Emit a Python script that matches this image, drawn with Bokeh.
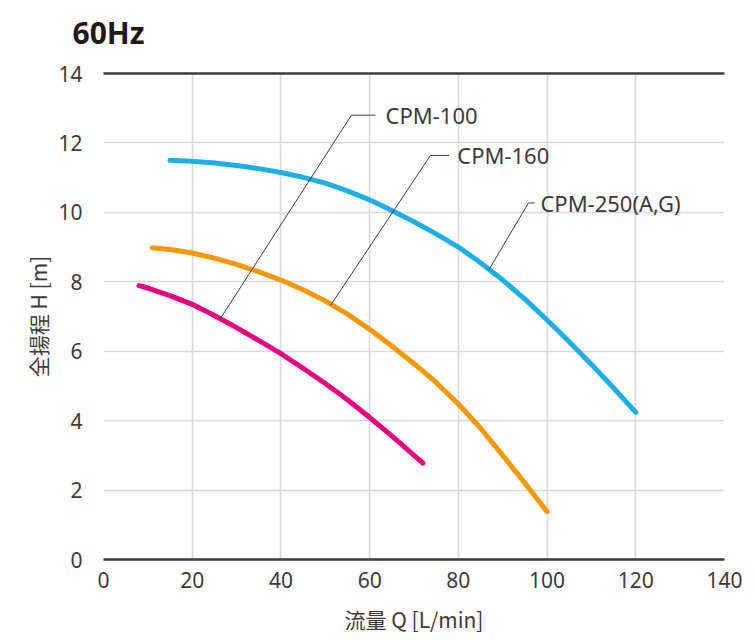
from bokeh.plotting import figure
from bokeh.models import Range1d, FixedTicker, LinearAxis
from bokeh.core.properties import value
from bokeh.embed import file_html
from bokeh.resources import INLINE

# ---- data ----
x_ticks = [0, 20, 40, 60, 80, 100, 120, 140]
y_ticks = [0, 2, 4, 6, 8, 10, 12, 14]

q_250 = [15, 20, 25, 30, 35, 40, 45, 50, 55, 60, 65, 70, 75, 80, 85, 90, 95, 100, 105, 110, 115, 120]
h_250 = [11.5, 11.47, 11.42, 11.35, 11.26, 11.15, 11.01, 10.84, 10.62, 10.36, 10.05, 9.73, 9.38, 9.0,
         8.55, 8.05, 7.5, 6.9, 6.27, 5.62, 4.94, 4.24]

q_160 = [11, 15, 20, 25, 30, 35, 40, 45, 50, 55, 60, 65, 70, 75, 80, 85, 90, 95, 100]
h_160 = [8.98, 8.93, 8.83, 8.68, 8.5, 8.29, 8.05, 7.77, 7.45, 7.07, 6.63, 6.15, 5.64, 5.1, 4.48,
         3.78, 3.0, 2.2, 1.38]

q_100 = [8, 10, 15, 20, 25, 30, 35, 40, 45, 50, 55, 60, 65, 70, 72]
h_100 = [7.89, 7.82, 7.6, 7.35, 7.03, 6.68, 6.31, 5.93, 5.51, 5.07, 4.6, 4.09, 3.56, 3.0, 2.78]

labels = ["CPM-100", "CPM-160", "CPM-250(A,G)"]
# leader lines: point on curve -> elbow -> end of horizontal stroke
leader_x = [[26.2, 55.9, 61.3], [51.2, 73.7, 77.9], [86.9, 95.8, 97.2]]
leader_y = [[6.91, 12.8, 12.8], [7.32, 11.64, 11.64], [8.35, 10.27, 10.27]]
label_x = [63.6, 79.75, 98.5]
label_y = [12.8, 11.64, 10.27]

# ---- styles ----
C_BLUE = "#1eaee5"
C_ORANGE = "#f39800"
C_MAGENTA = "#e4007f"
C_TEXT = "#3e3a39"
C_DARK = "#3e3a39"
C_GRID = "#d9d9d9"

p = figure(width=752, height=640,
           x_range=Range1d(0, 140), y_range=Range1d(0, 14),
           output_backend="svg", toolbar_location=None,
           min_border_left=103, min_border_right=28,
           min_border_top=73, min_border_bottom=81)

p.outline_line_color = None
p.background_fill_color = "white"
p.border_fill_color = "white"

xa = p.below[0]
ya = p.left[0]

# top rule: an axis above whose invisible tick reserves space under the title
top_axis = LinearAxis(ticker=FixedTicker(ticks=[x_ticks[0]]), axis_line_color=C_DARK,
                      axis_line_width=2.3,
                      major_tick_out=19, major_tick_in=0, major_tick_line_color=None,
                      minor_tick_out=0, minor_tick_in=0, minor_tick_line_color=None,
                      major_label_standoff=0, major_label_text_font_size="1px",
                      major_label_text_color=None)
p.add_layout(top_axis, "above")

# title
p.title.text = "60Hz"
p.title.text_font = "Noto Sans"
p.title.text_font_style = "bold"
p.title.text_font_size = "30px"
p.title.text_color = "#231815"
p.title.align = "left"
p.title.offset = -31
p.title.standoff = 4

# axes
xa.ticker = FixedTicker(ticks=x_ticks)
ya.ticker = FixedTicker(ticks=y_ticks)
for ax in (xa, ya):
    ax.major_tick_line_color = None
    ax.minor_tick_line_color = None
    ax.major_tick_out = 0
    ax.major_tick_in = 0
    ax.minor_tick_out = 0
    ax.minor_tick_in = 0
    ax.major_label_text_font = "Noto Sans"
    ax.major_label_text_font_size = "21px"
    ax.major_label_text_color = C_TEXT
    ax.axis_label_text_font = "Noto Sans CJK JP"
    ax.axis_label_text_font_size = "21px"
    ax.axis_label_text_font_style = "normal"
    ax.axis_label_text_color = C_TEXT

xa.axis_label = "流量 Q [L/min]"
xa.axis_line_color = C_DARK
xa.axis_line_width = 2.3
xa.major_label_standoff = 12
xa.axis_label_standoff = 13

ya.axis_label = "全揚程 H [m]"
ya.axis_line_color = None
ya.major_label_standoff = 21
ya.axis_label_standoff = 2

# grids
p.xgrid.ticker = FixedTicker(ticks=x_ticks[1:-1])
p.ygrid.ticker = FixedTicker(ticks=y_ticks[1:-1])
p.xgrid.grid_line_color = C_GRID
p.ygrid.grid_line_color = C_GRID
p.xgrid.grid_line_width = 1.6
p.ygrid.grid_line_width = 1.6

# curves
p.line(q_250, h_250, line_color=C_BLUE, line_width=5, line_cap="round", line_join="round")
p.line(q_160, h_160, line_color=C_ORANGE, line_width=5, line_cap="round", line_join="round")
p.line(q_100, h_100, line_color=C_MAGENTA, line_width=5, line_cap="round", line_join="round")

# leader lines and labels
p.multi_line(leader_x, leader_y, line_color=C_DARK, line_width=1)
p.text(x=label_x, y=label_y, text=labels, text_font=value("Noto Sans"),
       text_font_size="22px", text_color=C_TEXT,
       text_baseline="middle", text_align="left")

open("out.html", "w").write(file_html(p, INLINE))
